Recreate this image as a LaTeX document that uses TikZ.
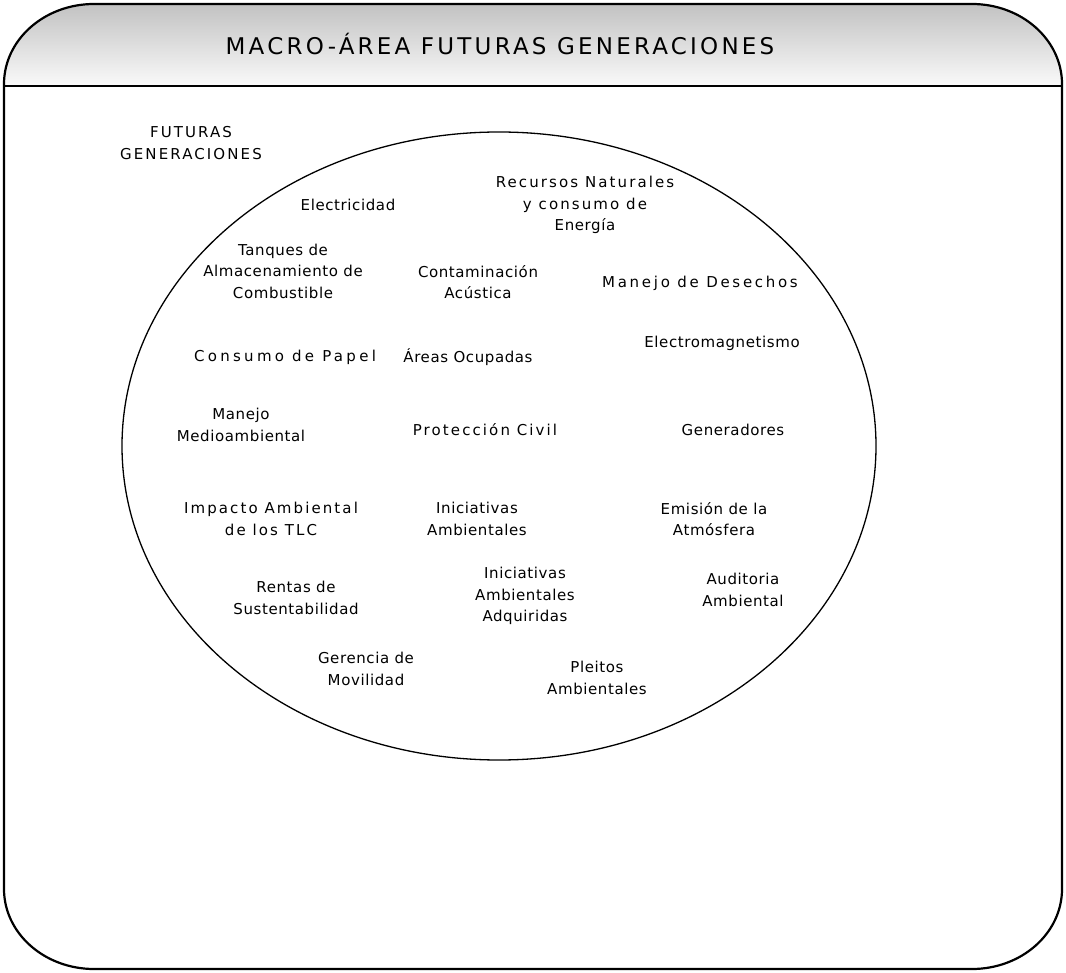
\documentclass[tikz,border=0pt]{standalone}
\usepackage{fontspec}
\setmainfont{DejaVu Sans}
\newfontfamily\titlefont[LetterSpace=14]{DejaVu Sans}
\newfontfamily\lblA[LetterSpace=4]{DejaVu Sans}
\newfontfamily\lblB[LetterSpace=14]{DejaVu Sans}
\newfontfamily\lblC[LetterSpace=22]{DejaVu Sans}
\newfontfamily\lblD[LetterSpace=18]{DejaVu Sans}
\begin{document}
\begin{tikzpicture}[x=1pt,y=-1pt,
  frame/.style={line width=2.2pt, draw=black},
  lbl/.style={align=center, inner sep=0pt, text=black, font=\fontsize{15}{21.5}\selectfont\lblA},
  wide/.style={align=center, inner sep=0pt, text=black, font=\fontsize{15}{21.5}\selectfont\lblB},
  wider/.style={align=center, inner sep=0pt, text=black, font=\fontsize{15}{21.5}\selectfont\lblC},
  widish/.style={align=center, inner sep=0pt, text=black, font=\fontsize{15}{21.5}\selectfont\lblD},
  titlestyle/.style={inner sep=0pt, font=\fontsize{23}{26}\selectfont\titlefont}]
\useasboundingbox (0,0) rectangle (1066,973);
% header gradient
\shade[top color=black!24, bottom color=black!2]
  (4,86) -- (4,84) arc[start angle=180, end angle=270, x radius=90, y radius=80]
  -- (972,4) arc[start angle=270, end angle=360, x radius=90, y radius=80]
  -- (1062,86) -- cycle;
% outer frame
\draw[frame] (4,84) arc[start angle=180, end angle=270, x radius=90, y radius=80]
  -- (972,4) arc[start angle=270, end angle=360, x radius=90, y radius=80]
  -- (1062,889) arc[start angle=0, end angle=90, x radius=90, y radius=80]
  -- (94,969) arc[start angle=90, end angle=180, x radius=90, y radius=80]
  -- cycle;
\draw[frame] (4,86) -- (1062,86);
\node[titlestyle] (title) at (500,44) {MACRO-ÁREA FUTURAS GENERACIONES};
% big ellipse
\draw[line width=1.3pt] (499,446) ellipse [x radius=377, y radius=314];
% labels
\node[wide] (fg) at (191,143) {FUTURAS\\GENERACIONES};
\node[lbl] (elec) at (348,205) {Electricidad};
\node[wide] (rec) at (585,205) {Recursos Naturales\\y consumo de\\\lblA Energía};
\node[lbl] (tanq) at (283,271) {Tanques de\\Almacenamiento de\\Combustible};
\node[lbl] (cont) at (478,282) {Contaminación\\Acústica};
\node[widish] (des) at (700,283) {Manejo de Desechos};
\node[wider] (pap) at (285,357) {Consumo de Papel};
\node[lbl] (areas) at (468,357) {Áreas Ocupadas};
\node[lbl] (emag) at (722,343) {Electromagnetismo};
\node[lbl] (mma) at (241,425) {Manejo\\Medioambiental};
\node[wide] (pc) at (485,430) {Protección Civil};
\node[lbl] (gen) at (733,430) {Generadores};
\node[wide] (imp) at (271,519) {Impacto Ambiental\\de los TLC};
\node[lbl] (ini) at (477,519) {Iniciativas\\Ambientales};
\node[lbl] (emi) at (714,519) {Emisión de la\\Atmósfera};
\node[lbl] (ren) at (296,598) {Rentas de\\Sustentabilidad};
\node[lbl] (inia) at (525,596) {Iniciativas\\Ambientales\\Adquiridas};
\node[lbl] (aud) at (743,590) {Auditoria\\Ambiental};
\node[lbl] (ger) at (366,669) {Gerencia de\\Movilidad};
\node[lbl] (ple) at (597,678) {Pleitos\\Ambientales};
\end{tikzpicture}
\end{document}
